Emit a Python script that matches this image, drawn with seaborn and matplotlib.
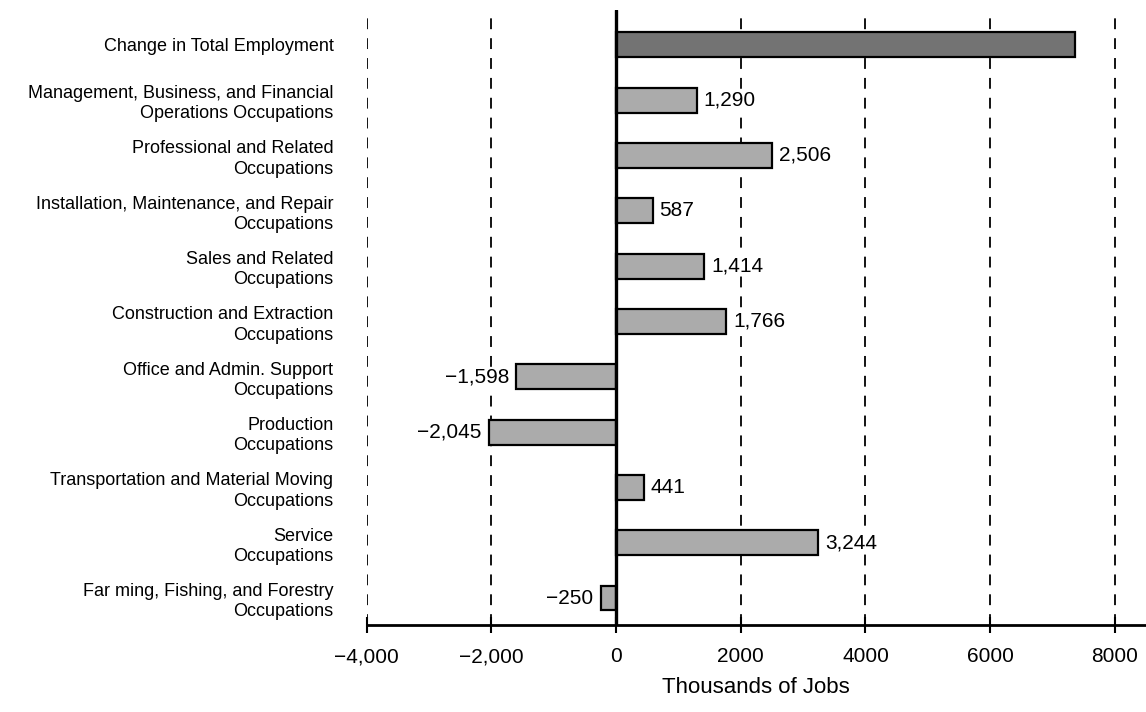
import numpy as np
import pandas as pd
import seaborn as sns
import matplotlib.pyplot as plt

categories = [
    'Change in Total Employment',
    'Management, Business, and Financial\nOperations Occupations',
    'Professional and Related\nOccupations',
    'Installation, Maintenance, and Repair\nOccupations',
    'Sales and Related\nOccupations',
    'Construction and Extraction\nOccupations',
    'Office and Admin. Support\nOccupations',
    'Production\nOccupations',
    'Transportation and Material Moving\nOccupations',
    'Service\nOccupations',
    'Far ming, Fishing, and Forestry\nOccupations',
]
values = [7355, 1290, 2506, 587, 1414, 1766, -1598, -2045, 441, 3244, -250]
value_labels = [None, '1,290', '2,506', '587', '1,414', '1,766',
                '\u22121,598', '\u22122,045', '441', '3,244', '\u2212250']
tick_values = [-4000, -2000, 0, 2000, 4000, 6000, 8000]
tick_labels = ['\u22124,000', '\u22122,000', '0', '2000', '4000', '6000', '8000']

df = pd.DataFrame({'category': categories, 'jobs': values})

sns.set_theme(style='white')
plt.rcParams['font.family'] = ['Liberation Sans', 'DejaVu Sans']
plt.rcParams['text.color'] = 'black'
plt.rcParams['axes.labelcolor'] = 'black'
plt.rcParams['xtick.color'] = 'black'
plt.rcParams['ytick.color'] = 'black'

fig = plt.figure(figsize=(11.46, 7.12), dpi=100)
ax = fig.add_axes([0.32, 0.122, 0.68, 0.864])

colors = ['#737373'] + ['#ababab'] * (len(categories) - 1)
sns.barplot(data=df, x='jobs', y='category', hue='category', palette=colors,
            legend=False, orient='h', width=0.45, edgecolor='black',
            linewidth=1.6, saturation=1, ax=ax, zorder=3)

# value labels beside each bar
for i, (v, lab) in enumerate(zip(values, value_labels)):
    if lab is None:
        continue
    off, ha = (5, 'left') if v >= 0 else (-5, 'right')
    ax.annotate(lab, (v, i), xytext=(off, 0), textcoords='offset points',
                ha=ha, va='center', fontsize=15, zorder=4,
                bbox=dict(facecolor='white', edgecolor='none', pad=0.5))

ax.set_xlim(-4000, 8500)
ax.set_ylim(len(categories) - 0.51, -0.63)

# dashed verticals, solid zero line
for t in tick_values:
    if t != 0:
        ax.axvline(t, color='black', linestyle=(0, (6, 5)), linewidth=1.3, zorder=1)
ax.axvline(0, color='black', linewidth=2.4, zorder=5)

ax.set_xticks(tick_values)
ax.set_xticklabels(tick_labels, fontsize=15)
ax.tick_params(axis='x', direction='inout', length=12, width=1.5,
               bottom=True, pad=10)
ax.tick_params(axis='y', length=0, pad=24, labelsize=13)
for lbl in ax.get_yticklabels():
    lbl.set_ha('right')
    lbl.set_multialignment('right')
    lbl.set_linespacing(1.25)

ax.set_xlabel('Thousands of Jobs', fontsize=16, labelpad=8)
ax.set_ylabel('')

for side in ['top', 'right', 'left']:
    ax.spines[side].set_visible(False)
ax.spines['bottom'].set_color('black')
ax.spines['bottom'].set_linewidth(2)

fig.savefig('out.png', dpi=100)
